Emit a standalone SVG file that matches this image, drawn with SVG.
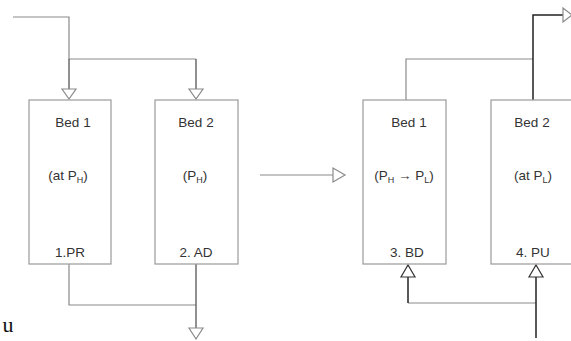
<svg xmlns="http://www.w3.org/2000/svg" width="571" height="341" viewBox="0 0 571 341">
<style>
.box{fill:#fff;stroke:#9a9a9a;stroke-width:1.2}
.ln{fill:none;stroke:#8a8a8a;stroke-width:1.2}
.dk{fill:none;stroke:#555;stroke-width:1.3}
.bk{fill:none;stroke:#222;stroke-width:1.5}
.tri{fill:#fff;stroke:#8a8a8a;stroke-width:1.2}
text{font-family:"Liberation Sans",Arial,sans-serif;font-size:13.5px;fill:#333;text-anchor:middle}
.sub{font-size:9px}
</style>
<rect width="571" height="341" fill="#fff"/>
<g id="connectors">
<path class="ln" d="M13,17 H69 V59 H196"/>
<path class="dk" d="M69,59 V99"/>
<path class="dk" d="M196,59 V99"/>
<polygon class="tri" points="62,89 76,89 69,99"/>
<polygon class="tri" points="189,89 203,89 196,99"/>
<path class="ln" d="M69,264 V305 H196"/>
<path class="dk" d="M196,264 V339"/>
<polygon class="tri" points="189,328 203,328 196,339"/>
<path class="ln" d="M260,175 H344"/>
<polygon class="tri" points="333,168 333,182 345,175"/>
<path class="ln" d="M406,100 V59 H533"/>
<path class="bk" d="M533,100 V15 H563"/>
<polygon class="tri" points="563,8 563,22 572,15"/>
<path class="ln" d="M408,303 H536"/>
<path class="bk" d="M408,303 V265"/>
<path class="bk" d="M536,338 V265"/>
<polygon class="tri" points="401,277 415,277 408,265" style="stroke:#333"/>
<polygon class="tri" points="529,277 543,277 536,265" style="stroke:#333"/>
</g>
<g id="bed1-pr">
<rect class="box" x="29" y="100" width="82" height="164"/>
<text x="73" y="127">Bed 1</text>
<text x="68" y="180">(at P<tspan class="sub" dy="3">H</tspan><tspan dy="-3">)</tspan></text>
<text x="70" y="257">1.PR</text>
</g>
<g id="bed2-ad">
<rect class="box" x="155" y="100" width="83" height="164"/>
<text x="196" y="127">Bed 2</text>
<text x="195" y="180">(P<tspan class="sub" dy="3">H</tspan><tspan dy="-3">)</tspan></text>
<text x="196" y="257">2. AD</text>
</g>
<g id="bed1-bd">
<rect class="box" x="363" y="100" width="83" height="164"/>
<text x="409" y="127">Bed 1</text>
<text x="404" y="180">(P<tspan class="sub" dy="3">H</tspan><tspan dy="-3"> → P</tspan><tspan class="sub" dy="3">L</tspan><tspan dy="-3">)</tspan></text>
<text x="407" y="257">3. BD</text>
</g>
<g id="bed2-pu">
<rect class="box" x="491" y="100" width="82" height="164"/>
<text x="532" y="127">Bed 2</text>
<text x="533" y="180">(at P<tspan class="sub" dy="3">L</tspan><tspan dy="-3">)</tspan></text>
<text x="533" y="257">4. PU</text>
</g>
<text x="8" y="332" style="font-family:'Liberation Serif','Times New Roman',serif;font-size:22px;fill:#111">u</text>
</svg>
